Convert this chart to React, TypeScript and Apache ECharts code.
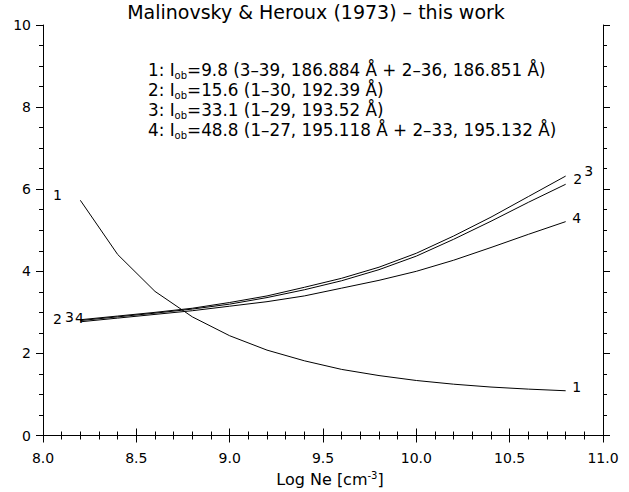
import React, { useEffect, useRef } from "react";
import * as echarts from "echarts";

const logNe = [8.2, 8.4, 8.6, 8.8, 9.0, 9.2, 9.4, 9.6, 9.8, 10.0, 10.2, 10.4, 10.6, 10.8];
const curve1 = [5.73, 4.41, 3.51, 2.89, 2.43, 2.08, 1.82, 1.61, 1.46, 1.34, 1.25, 1.18, 1.13, 1.09];
const curve2 = [2.80, 2.89, 2.98, 3.08, 3.20, 3.36, 3.55, 3.77, 4.04, 4.37, 4.78, 5.22, 5.68, 6.12];
const curve3 = [2.82, 2.91, 3.00, 3.10, 3.24, 3.40, 3.61, 3.83, 4.10, 4.44, 4.86, 5.32, 5.82, 6.32];
const curve4 = [2.77, 2.86, 2.95, 3.04, 3.15, 3.26, 3.40, 3.59, 3.78, 4.00, 4.27, 4.58, 4.90, 5.21];

const titleText = "Malinovsky & Heroux (1973) – this work";
const legendLines = [
  { pre: "1: I", sub: "ob", post: "=9.8 (3–39, 186.884 Å + 2–36, 186.851 Å)" },
  { pre: "2: I", sub: "ob", post: "=15.6 (1–30, 192.39 Å)" },
  { pre: "3: I", sub: "ob", post: "=33.1 (1–29, 193.52 Å)" },
  { pre: "4: I", sub: "ob", post: "=48.8 (1–27, 195.118 Å + 2–33, 195.132 Å)" },
];

const FONT = "DejaVu Sans";

export default function App() {
  const ref = useRef<HTMLDivElement>(null);
  useEffect(() => {
    if (!ref.current) return;
    const chart = echarts.init(ref.current, null, { renderer: "svg" });
    const mk = (arr: number[]) => logNe.map((x, i) => [x, arr[i]]);
    const axisCommon = {
      axisLine: { show: true, lineStyle: { color: "#000", width: 1 } },
      axisTick: { show: true, inside: false, length: 7, lineStyle: { color: "#000" } },
      minorTick: { show: true, length: 4, lineStyle: { color: "#000" } },
      splitLine: { show: false },
      minorSplitLine: { show: false },
    };
    const lineSeries = (name: string, arr: number[]) => ({
      name,
      type: "line",
      data: mk(arr),
      showSymbol: false,
      symbol: "none",
      lineStyle: { color: "#000", width: 1 },
      silent: true,
    });
    chart.setOption({
      animation: false,
      backgroundColor: "#fff",
      textStyle: { fontFamily: FONT, color: "#000" },
      title: {
        text: titleText,
        left: 316,
        top: 2,
        padding: 0,
        textAlign: "center",
        textStyle: { fontFamily: FONT, fontSize: 19, fontWeight: "normal", color: "#000" },
      },
      grid: { left: 43, width: 560, top: 25, height: 415, containLabel: false },
      xAxis: [
        {
          type: "value",
          min: 8,
          max: 11,
          interval: 0.5,
          position: "bottom",
          ...axisCommon,
          minorTick: { ...axisCommon.minorTick, splitNumber: 5 },
          axisLabel: {
            margin: 15,
            fontSize: 14,
            fontFamily: FONT,
            color: "#000",
            formatter: (v: number) => v.toFixed(1),
          },
          name: "Log Ne [cm{sup|-3}]",
          nameLocation: "middle",
          nameGap: 35,
          nameTextStyle: {
            fontSize: 16,
            fontFamily: FONT,
            color: "#000",
            padding: [0, 0, 0, 14],
            rich: { sup: { fontSize: 10, verticalAlign: "top", fontFamily: FONT, color: "#000", padding: [0, 0, 7, 0] } },
          },
        },
        {
          type: "value",
          min: 8,
          max: 11,
          interval: 0.5,
          position: "top",
          ...axisCommon,
          minorTick: { ...axisCommon.minorTick, splitNumber: 5 },
          axisLabel: { show: false },
        },
      ],
      yAxis: [
        {
          type: "value",
          min: 0,
          max: 10,
          interval: 2,
          position: "left",
          ...axisCommon,
          minorTick: { ...axisCommon.minorTick, splitNumber: 4 },
          axisLabel: { margin: 12, fontSize: 14, fontFamily: FONT, color: "#000", padding: [0, 0, 4, 0] },
        },
        {
          type: "value",
          min: 0,
          max: 10,
          interval: 2,
          position: "right",
          ...axisCommon,
          minorTick: { ...axisCommon.minorTick, splitNumber: 4 },
          axisLabel: { show: false },
        },
      ],
      series: [
        lineSeries("1", curve1),
        lineSeries("2", curve2),
        lineSeries("3", curve3),
        lineSeries("4", curve4),
      ],
    });

    const last = logNe.length - 1;
    const labelDefs = [
      { t: "1", x: logNe[0], y: curve1[0], dx: -23, dy: -5 },
      { t: "2", x: logNe[0], y: curve2[0], dx: -23, dy: -2 },
      { t: "3", x: logNe[0], y: curve3[0], dx: -11, dy: -3 },
      { t: "4", x: logNe[0], y: curve4[0], dx: -1, dy: -4 },
      { t: "2", x: logNe[last], y: curve2[last], dx: 12, dy: -5 },
      { t: "3", x: logNe[last], y: curve3[last], dx: 23, dy: -5 },
      { t: "4", x: logNe[last], y: curve4[last], dx: 11, dy: -4 },
      { t: "1", x: logNe[last], y: curve1[last], dx: 11, dy: -4 },
    ];
    const graphics: any[] = labelDefs.map((d) => {
      const p = chart.convertToPixel({ gridIndex: 0 }, [d.x, d.y]) as number[];
      return {
        type: "text",
        x: p[0] + d.dx,
        y: p[1] + d.dy,
        silent: true,
        style: {
          text: d.t,
          fill: "#000",
          font: `14px '${FONT}'`,
          align: "center",
          verticalAlign: "middle",
        },
      };
    });
    legendLines.forEach((l, i) => {
      graphics.push({
        type: "text",
        x: 148,
        y: 70 + i * 20,
        silent: true,
        style: {
          text: `{n|${l.pre}}{s|${l.sub}}{n|${l.post}}`,
          fill: "#000",
          align: "left",
          verticalAlign: "middle",
          rich: {
            n: { fontSize: 16.8, fontFamily: FONT, fill: "#000", lineHeight: 20 },
            s: { fontSize: 10, fontFamily: FONT, fill: "#000", verticalAlign: "bottom", lineHeight: 20, padding: [6, 0, 0, 0] },
          },
        },
      });
    });
    chart.setOption({ graphic: graphics });

    return () => chart.dispose();
  }, []);
  return (
    <div
      ref={ref}
      style={{ position: "fixed", left: 0, top: 0, width: 629, height: 492, background: "#fff" }}
    />
  );
}
